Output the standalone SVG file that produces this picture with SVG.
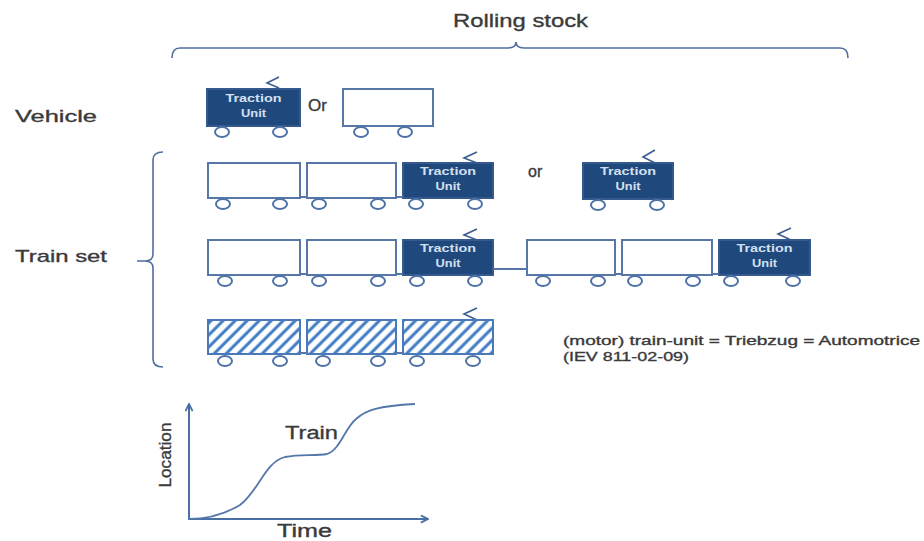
<svg xmlns="http://www.w3.org/2000/svg" width="924" height="541" viewBox="0 0 924 541">
<style>
.box{fill:#fff;stroke:#5677a8;stroke-width:2}
.tu{fill:#1f497d;stroke:#35598c;stroke-width:2}
.hat{fill:url(#hatch);stroke:#4a78b8;stroke-width:2}
.wh{fill:#fff;stroke:#4d72a8;stroke-width:2}
.pan{fill:none;stroke:#3b5d8f;stroke-width:1.6}
.cpl{stroke:#5677a8;stroke-width:2}
.tut{fill:#d4e0f0;font-family:"Liberation Sans",Arial,sans-serif;font-size:11px;font-weight:bold;text-anchor:middle}
.lbl{fill:#3a3a3a;stroke:#3a3a3a;stroke-width:0.35;font-family:"Liberation Sans",Arial,sans-serif}
.brace{fill:none;stroke:#4f6f9f;stroke-width:1.6}
.ax{fill:none;stroke:#4a6fa5;stroke-width:2}
</style>
<defs>
<pattern id="hatch" patternUnits="userSpaceOnUse" width="8.5" height="8.5" patternTransform="rotate(45)">
<rect width="8.5" height="8.5" fill="#fff"/>
<line x1="2" y1="0" x2="2" y2="8.5" stroke="#3f7bc4" stroke-width="3"/>
</pattern>
<marker id="arr" viewBox="0 0 10 10" refX="9" refY="5" markerWidth="9" markerHeight="9" markerUnits="userSpaceOnUse" orient="auto">
<path d="M1,1 L9,5 L1,9" fill="none" stroke="#4a6fa5" stroke-width="2"/>
</marker>
</defs>

<g id="rolling-stock-label">
<text class="lbl" x="453" y="27" font-size="19" textLength="135" lengthAdjust="spacingAndGlyphs">Rolling stock</text>
<path class="brace" d="M172,58 Q172,48 180,48 L508,48 Q516,48 516,42 Q516,48 524,48 L840,48 Q848,48 848,58"/>
</g>

<g id="vehicle-label"><text class="lbl" x="15" y="122" font-size="17" textLength="82" lengthAdjust="spacingAndGlyphs">Vehicle</text></g>
<g id="trainset-label">
<text class="lbl" x="15" y="262" font-size="17" textLength="92" lengthAdjust="spacingAndGlyphs">Train set</text>
<path class="brace" d="M163,152 Q153,152 153,160 L153,254 Q153,261 145,261 L137,261 M145,261 Q153,261 153,268 L153,359 Q153,367 163,367"/>
</g>

<!-- Row 1: vehicle -->
<g id="v-tu">
<polyline class="pan" points="279,77 267,83 279,88"/>
<rect class="tu" x="207" y="89" width="93" height="37"/>
<text class="tut" x="253.5" y="102" textLength="56" lengthAdjust="spacingAndGlyphs">Traction</text>
<text class="tut" x="253.5" y="117" textLength="25" lengthAdjust="spacingAndGlyphs">Unit</text>
<ellipse class="wh" cx="222" cy="132" rx="7" ry="5"/>
<ellipse class="wh" cx="280" cy="132" rx="7" ry="5"/>
</g>
<g id="v-or"><text class="lbl" x="308" y="111" font-size="17">Or</text></g>
<g id="v-car">
<rect class="box" x="343" y="89" width="90" height="37"/>
<ellipse class="wh" cx="361" cy="132" rx="7" ry="5"/>
<ellipse class="wh" cx="405" cy="132" rx="7" ry="5"/>
</g>

<!-- Row 2 -->
<g id="r2-car1">
<rect class="box" x="208" y="163" width="92" height="35"/>
<ellipse class="wh" cx="223" cy="204" rx="7" ry="5"/>
<ellipse class="wh" cx="280" cy="204" rx="7" ry="5"/>
</g>
<g id="r2-car2">
<rect class="box" x="307" y="163" width="89" height="35"/>
<ellipse class="wh" cx="319" cy="204" rx="7" ry="5"/>
<ellipse class="wh" cx="378" cy="204" rx="7" ry="5"/>
</g>
<g id="r2-tu">
<polyline class="pan" points="477,152 464,158 477,163"/>
<rect class="tu" x="403" y="163" width="90" height="35"/>
<text class="tut" x="448" y="175" textLength="56" lengthAdjust="spacingAndGlyphs">Traction</text>
<text class="tut" x="448" y="190" textLength="25" lengthAdjust="spacingAndGlyphs">Unit</text>
<ellipse class="wh" cx="416" cy="204" rx="7" ry="5"/>
<ellipse class="wh" cx="475" cy="204" rx="7" ry="5"/>
</g>
<g id="r2-or"><text class="lbl" x="528" y="177" font-size="16">or</text></g>
<g id="r2-tu-alone">
<polyline class="pan" points="655,150 643,157 655,163"/>
<rect class="tu" x="583" y="163" width="90" height="36"/>
<text class="tut" x="628" y="175" textLength="56" lengthAdjust="spacingAndGlyphs">Traction</text>
<text class="tut" x="628" y="190" textLength="25" lengthAdjust="spacingAndGlyphs">Unit</text>
<ellipse class="wh" cx="598" cy="205" rx="7" ry="5"/>
<ellipse class="wh" cx="657" cy="205" rx="7" ry="5"/>
</g>

<!-- Row 3 -->
<g id="r3-car1">
<rect class="box" x="208" y="240" width="92" height="35"/>
<ellipse class="wh" cx="225" cy="281" rx="7" ry="5"/>
<ellipse class="wh" cx="280" cy="281" rx="7" ry="5"/>
</g>
<g id="r3-car2">
<rect class="box" x="307" y="240" width="89" height="35"/>
<ellipse class="wh" cx="319" cy="281" rx="7" ry="5"/>
<ellipse class="wh" cx="378" cy="281" rx="7" ry="5"/>
</g>
<g id="r3-tu1">
<polyline class="pan" points="477,229 464,235 477,240"/>
<rect class="tu" x="403" y="240" width="90" height="35"/>
<text class="tut" x="448" y="252" textLength="56" lengthAdjust="spacingAndGlyphs">Traction</text>
<text class="tut" x="448" y="267" textLength="25" lengthAdjust="spacingAndGlyphs">Unit</text>
<ellipse class="wh" cx="417" cy="281" rx="7" ry="5"/>
<ellipse class="wh" cx="475" cy="281" rx="7" ry="5"/>
</g>
<g id="r3-car4">
<rect class="box" x="527" y="240" width="88" height="35"/>
<ellipse class="wh" cx="543" cy="281" rx="7" ry="5"/>
<ellipse class="wh" cx="598" cy="281" rx="7" ry="5"/>
</g>
<g id="r3-car5">
<rect class="box" x="622" y="240" width="90" height="35"/>
<ellipse class="wh" cx="635" cy="281" rx="7" ry="5"/>
<ellipse class="wh" cx="693" cy="281" rx="7" ry="5"/>
</g>
<g id="r3-tu2">
<polyline class="pan" points="791,228 778,234 791,240"/>
<rect class="tu" x="719" y="240" width="91" height="35"/>
<text class="tut" x="764.5" y="252" textLength="56" lengthAdjust="spacingAndGlyphs">Traction</text>
<text class="tut" x="764.5" y="267" textLength="25" lengthAdjust="spacingAndGlyphs">Unit</text>
<ellipse class="wh" cx="731" cy="281" rx="7" ry="5"/>
<ellipse class="wh" cx="793" cy="281" rx="7" ry="5"/>
</g>

<!-- Row 4 -->
<g id="r4-car1">
<rect class="hat" x="208" y="320" width="92" height="34"/>
<ellipse class="wh" cx="225" cy="361" rx="7" ry="5"/>
<ellipse class="wh" cx="280" cy="361" rx="7" ry="5"/>
</g>
<g id="r4-car2">
<rect class="hat" x="307" y="320" width="89" height="34"/>
<ellipse class="wh" cx="323" cy="361" rx="7" ry="5"/>
<ellipse class="wh" cx="378" cy="361" rx="7" ry="5"/>
</g>
<g id="r4-car3">
<polyline class="pan" points="477,308 464,314 477,320"/>
<rect class="hat" x="403" y="320" width="90" height="34"/>
<ellipse class="wh" cx="417" cy="361" rx="7" ry="5"/>
<ellipse class="wh" cx="473" cy="361" rx="7" ry="5"/>
</g>

<g id="connectors">
<line class="cpl" x1="300" y1="197" x2="307" y2="197"/>
<line class="cpl" x1="396" y1="197" x2="403" y2="197"/>
<line class="cpl" x1="300" y1="274" x2="307" y2="274"/>
<line class="cpl" x1="396" y1="274" x2="403" y2="274"/>
<line class="cpl" x1="493" y1="269" x2="527" y2="269" stroke="#2d5288"/>
<line class="cpl" x1="615" y1="274" x2="622" y2="274"/>
<line class="cpl" x1="712" y1="274" x2="719" y2="274"/>
<line class="cpl" x1="300" y1="353" x2="307" y2="353"/>
<line class="cpl" x1="396" y1="353" x2="403" y2="353"/>
</g>

<g id="note">
<text class="lbl" x="563" y="345" font-size="13" textLength="357" lengthAdjust="spacingAndGlyphs">(motor) train-unit  =  Triebzug = Automotrice</text>
<text class="lbl" x="563" y="361" font-size="13" textLength="126" lengthAdjust="spacingAndGlyphs">(IEV 811-02-09)</text>
</g>

<g id="graph">
<line class="ax" x1="189" y1="519" x2="189" y2="404" marker-end="url(#arr)"/>
<line class="ax" x1="188" y1="519" x2="428" y2="519" marker-end="url(#arr)"/>
<path d="M189,519 C210,519 225,514 240,505 C258,492 265,462 285,457 C300,454 315,456 327,454 C340,450 345,428 356,419 C366,410 378,406 415,404" fill="none" stroke="#5477aa" stroke-width="1.8"/>
<text class="lbl" x="285" y="439" font-size="18" textLength="53" lengthAdjust="spacingAndGlyphs">Train</text>
<text class="lbl" x="277" y="537" font-size="18" textLength="55" lengthAdjust="spacingAndGlyphs">Time</text>
<text class="lbl" transform="translate(171,455) rotate(-90)" text-anchor="middle" font-size="17" textLength="65" lengthAdjust="spacingAndGlyphs">Location</text>
</g>
</svg>
